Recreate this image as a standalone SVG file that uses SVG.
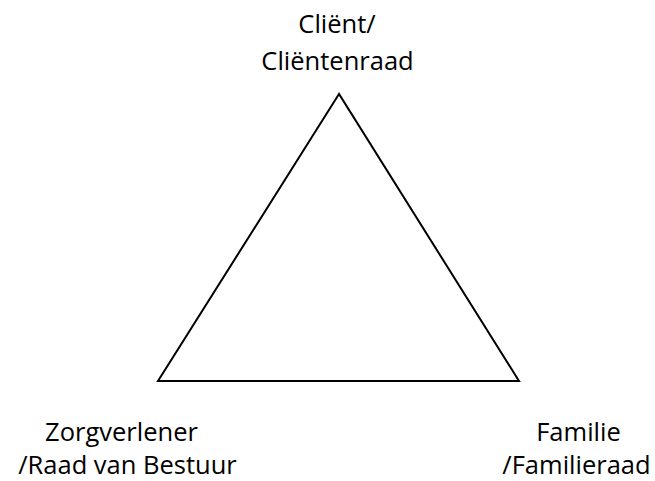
<svg xmlns="http://www.w3.org/2000/svg" width="655" height="481" viewBox="0 0 655 481">
<style>
text{font-family:"Open Sans","Liberation Sans",sans-serif;font-size:25.5px;fill:#000;text-anchor:middle}
.edge{stroke:#000;stroke-width:2;fill:none;stroke-linejoin:miter}
</style>
<rect width="655" height="481" fill="#fff"/>
<g id="connectors">
<polygon class="edge" points="339,94 158,381 519,381"/>
</g>
<g id="client">
<text x="337" y="33">Cliënt/</text>
<text x="337.5" y="70">Cliëntenraad</text>
</g>
<g id="zorgverlener">
<text x="121.5" y="441">Zorgverlener</text>
<text x="127.5" y="474">/Raad van Bestuur</text>
</g>
<g id="familie">
<text x="578.5" y="441">Familie</text>
<text x="576.5" y="474">/Familieraad</text>
</g>
</svg>
